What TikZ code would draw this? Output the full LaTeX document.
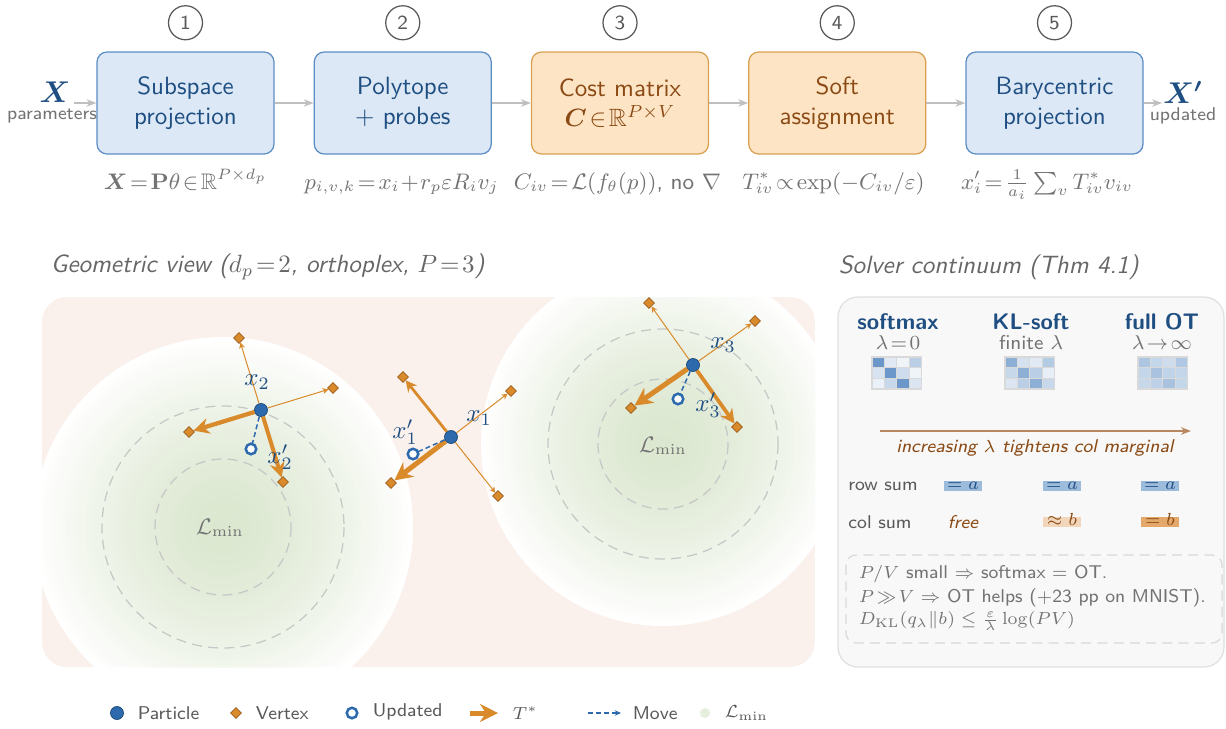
\documentclass[tikz,border=0pt]{standalone}
\usepackage{amsmath, amssymb}
\usepackage{tikz}
\usetikzlibrary{shapes.geometric, arrows.meta, positioning}
\renewcommand{\familydefault}{\sfdefault}
\newcommand{\notesize}{\fontsize{7.4pt}{9pt}\selectfont}

\definecolor{boxblue}{HTML}{DCE8F5}
\definecolor{edgeblue}{HTML}{5B8DC5}
\definecolor{inkblue}{HTML}{1F4E82}
\definecolor{boxorange}{HTML}{FCE4C5}
\definecolor{edgeorange}{HTML}{D9A050}
\definecolor{inkbrown}{HTML}{8B4A14}
\definecolor{dotblue}{HTML}{2C6AAD}
\definecolor{vtxorange}{HTML}{D98A2B}
\definecolor{vtxedge}{HTML}{9A5A1A}
\definecolor{paneltint}{HTML}{FBF1EC}
\definecolor{basin}{HTML}{DBE7CF}
\definecolor{softgray}{HTML}{F8F8F8}
\definecolor{cellblue}{HTML}{3A75B8}
\definecolor{chipblue}{HTML}{9DBBDB}
\definecolor{chiptan}{HTML}{F2D6BC}
\definecolor{chiporange}{HTML}{E3A86A}
\definecolor{trendtan}{HTML}{B8875F}

\tikzstyle{flow}=[-{Stealth[length=4pt,width=3pt]}, line width=0.5pt, color=black!25]
\tikzstyle{plan}=[-{Stealth[length=1.2pt 3,width=1.2pt 3]}, color=vtxorange]
\tikzstyle{move}=[-{Stealth[length=2.5pt,width=2.2pt]}, dash pattern=on 2pt off 1.2pt, line width=0.6pt, color=dotblue]

\begin{document}
\begin{tikzpicture}[x=0.4pt, y=-0.4pt,
  stagebox/.style={rectangle, draw=edgeblue, fill=boxblue, text=inkblue,
                   line width=0.5pt, minimum width=70.8pt, minimum height=40.8pt,
                   rounded corners=4pt, align=center, inner sep=0pt},
  costbox/.style={stagebox, draw=edgeorange, fill=boxorange, text=inkbrown},
  stepnum/.style={circle, draw=black!65, line width=0.5pt, minimum size=13.6pt,
                  inner sep=0pt, font=\footnotesize, text=black!65},
  formula/.style={font=\small, text=black!55, anchor=base},
  iolabel/.style={font=\large, text=inkblue},
  ionote/.style={font=\notesize, text=black!55},
  sectitle/.style={font=\itshape, text=black!60, anchor=west},
  particle/.style={circle, fill=dotblue, draw=dotblue!70!black, line width=0.3pt,
                   minimum size=5.2pt, inner sep=0pt},
  vertex/.style={diamond, fill=vtxorange, draw=vtxedge, line width=0.3pt,
                 minimum size=4.4pt, inner sep=0pt},
  updated/.style={circle, fill=white, draw=dotblue, line width=1pt,
                  minimum size=4.2pt, inner sep=0pt},
  ptlabel/.style={text=inkblue},
  ring/.style={dash pattern=on 4pt off 2.5pt, draw=black!22, line width=0.5pt},
  basinlabel/.style={font=\small, text=black!55},
  colhead/.style={font=\small\bfseries, text=inkblue},
  colsub/.style={font=\footnotesize, text=black!55},
  cell/.style={draw=black!15, line width=0.5pt},
  rowtext/.style={font=\notesize, text=black!65},
  chip/.style={inner xsep=0pt, inner ysep=0pt, minimum width=15.2pt,
               text height=3.4pt, text depth=0.6pt, font=\notesize},
  notetext/.style={font=\notesize, text=black!55, anchor=west},
  legendtext/.style={font=\notesize, text=black!65, anchor=west}
]
\useasboundingbox (0,0) rectangle (1226,728);

% pipeline
\node[stagebox] (proj) at (185.5,103) {Subspace\\projection};
\node[stagebox, right=15.6pt of proj] (poly) {Polytope\\$+$ probes};
\node[costbox,  right=15.6pt of poly] (cost) {Cost matrix\\$\boldsymbol{C}\!\in\!\mathbb{R}^{P\times V}$};
\node[costbox,  right=15.6pt of cost] (soft) {Soft\\assignment};
\node[stagebox, right=15.6pt of soft] (bary) {Barycentric\\projection};

\node[stepnum, above=4.4pt of proj] (n1) {1};
\node[stepnum, above=4.4pt of poly] (n2) {2};
\node[stepnum, above=4.4pt of cost] (n3) {3};
\node[stepnum, above=4.4pt of soft] (n4) {4};
\node[stepnum, above=4.4pt of bary] (n5) {5};

\node[formula] (f1) at (185.5,189) {$\boldsymbol{X}\!=\!\mathbf{P}\theta\!\in\!\mathbb{R}^{P\times d_p}$};
\node[formula] (f2) at (401.5,189) {$p_{i,v,k}\!=\!x_i\!+\!r_p\varepsilon R_i v_j$};
\node[formula] (f3) at (617.5,189) {$C_{iv}\!=\!\mathcal{L}(f_\theta(p))$, no $\nabla$};
\node[formula] (f4) at (833.5,189) {$T^*_{iv}\!\propto\!\exp(-C_{iv}/\varepsilon)$};
\node[formula] (f5) at (1047,189) {$x'_i\!=\!\frac{1}{a_i}\sum_v T^*_{iv}v_{iv}$};

\node[iolabel] (xin) at (55,92) {$\boldsymbol{X}$};
\node[ionote] (xinnote) at (52,116) {parameters};
\coordinate (xin-end) at (74,103);
\node[iolabel] (xout) at (1183,92) {$\boldsymbol{X'}$};
\node[ionote] (xoutnote) at (1183,116) {updated};
\coordinate (xout-end) at (1162,103);

\draw[flow] (xin-end) -- (proj);
\draw[flow] (proj) -- (poly);
\draw[flow] (poly) -- (cost);
\draw[flow] (cost) -- (soft);
\draw[flow] (soft) -- (bary);
\draw[flow] (bary) -- (xout-end);

% geometric view
\node[sectitle] (geotitle) at (42,267) {Geometric view ($d_p\!=\!2$, orthoplex, $P\!=\!3$)};
\begin{scope}
  \clip[rounded corners=10pt] (42,297) rectangle (815,667);
  \fill[paneltint] (42,297) rectangle (815,667);
  \foreach \i in {40,39,...,1} {
    \pgfmathsetmacro\pct{100*(1-(\i/40)^1.5)}
    \fill[basin!\pct!white] (223,527) circle[radius=4.75*\i];
    \fill[basin!\pct!white] (663,444) circle[radius=4.55*\i];
  }
\end{scope}
\draw[ring] (223,527) circle[radius=68];
\draw[ring] (223,527) circle[radius=121];
\draw[ring] (663,444) circle[radius=65];
\draw[ring] (663,444) circle[radius=115];
\node[basinlabel] (lminA) at (220,528) {$\mathcal{L}_{\min}$};
\node[basinlabel] (lminB) at (663,446) {$\mathcal{L}_{\min}$};

% particle 2
\node[particle] (p2) at (261,410) {};
\node[vertex] (p2a) at (239,338) {};
\node[vertex] (p2b) at (333,388) {};
\node[vertex] (p2c) at (189,432) {};
\node[vertex] (p2d) at (283,482) {};
\coordinate (u2c) at (251,449);
\draw[plan, line width=0.4pt] (p2) -- (p2a);
\draw[plan, line width=0.4pt] (p2) -- (p2b);
\draw[plan, line width=1.7pt] (p2) -- (p2c);
\draw[plan, line width=1.6pt] (p2) -- (p2d);
\draw[move] (p2) -- (u2c);
\node[updated] (u2) at (u2c) {};
\node[ptlabel] (l2) at (257,382) {$x_2$};
\node[ptlabel] (l2u) at (280,457) {$x'_2$};

% particle 1
\node[particle] (p1) at (451,437) {};
\node[vertex] (p1a) at (403,377) {};
\node[vertex] (p1b) at (511,391) {};
\node[vertex] (p1c) at (391,483) {};
\node[vertex] (p1d) at (498,496) {};
\coordinate (u1c) at (413,454);
\draw[plan, line width=1.1pt] (p1) -- (p1a);
\draw[plan, line width=0.4pt] (p1) -- (p1b);
\draw[plan, line width=2pt] (p1) -- (p1c);
\draw[plan, line width=0.4pt] (p1) -- (p1d);
\draw[move] (p1) -- (u1c);
\node[updated] (u1) at (u1c) {};
\node[ptlabel] (l1) at (479,418) {$x_1$};
\node[ptlabel] (l1u) at (405,432) {$x'_1$};

% particle 3
\node[particle] (p3) at (693,365) {};
\node[vertex] (p3a) at (649,303) {};
\node[vertex] (p3b) at (755,321) {};
\node[vertex] (p3c) at (631,408) {};
\node[vertex] (p3d) at (737,427) {};
\coordinate (u3c) at (678,399);
\draw[plan, line width=0.4pt] (p3) -- (p3a);
\draw[plan, line width=0.4pt] (p3) -- (p3b);
\draw[plan, line width=2pt] (p3) -- (p3c);
\draw[plan, line width=1.5pt] (p3) -- (p3d);
\draw[move] (p3) -- (u3c);
\node[updated] (u3) at (u3c) {};
\node[ptlabel] (l3) at (723,345) {$x_3$};
\node[ptlabel] (l3u) at (708,405) {$x'_3$};

% solver continuum
\node[sectitle] (soltitle) at (830,267) {Solver continuum (Thm 4.1)};
\filldraw[fill=softgray, draw=black!12, line width=0.5pt, rounded corners=8pt]
  (838,297) rectangle (1224,667);

\node[colhead] (hsm) at (898,322) {softmax};
\node[colsub]  (ssm) at (898,343) {$\lambda\!=\!0$};
\node[colhead] (hkl) at (1031,322) {KL-soft};
\node[colsub]  (skl) at (1031,343) {finite $\lambda$};
\node[colhead] (hot) at (1162,322) {full OT};
\node[colsub]  (sot) at (1162,343) {$\lambda\!\to\!\infty$};

\foreach \v [count=\k from 0] in {75,15,8,35,20,75,25,8,10,28,75,18}
  \filldraw[cell, fill=cellblue!\v!white] ({872+12.4*mod(\k,4)},{357+10.7*int(\k/4)}) rectangle ++(12.4,10.7);
\foreach \v [count=\k from 0] in {58,22,15,38,28,58,35,12,18,35,58,28}
  \filldraw[cell, fill=cellblue!\v!white] ({1005+12.4*mod(\k,4)},{357+10.7*int(\k/4)}) rectangle ++(12.4,10.7);
\foreach \v [count=\k from 0] in {42,30,25,40,30,44,32,30,28,33,44,30}
  \filldraw[cell, fill=cellblue!\v!white] ({1138+12.4*mod(\k,4)},{357+10.7*int(\k/4)}) rectangle ++(12.4,10.7);

\coordinate (trend-start) at (880,431);
\coordinate (trend-end) at (1191,431);
\draw[-{Stealth[length=4pt,width=3pt]}, line width=0.7pt, trendtan] (trend-start) -- (trend-end);
\node[font=\notesize\itshape, text=inkbrown] (trend) at (1035,448) {increasing $\lambda$ tightens col marginal};

\node[rowtext] (rowsum) at (883,486) {row sum};
\node[rowtext] (colsum) at (880,522) {col sum};
\node[chip, fill=chipblue, text=inkblue] (ra) at (963,486) {$=a$};
\node[chip, fill=chipblue, text=inkblue] (rb) at (1062,486) {$=a$};
\node[chip, fill=chipblue, text=inkblue] (rc) at (1160,486) {$=a$};
\node[font=\notesize\itshape, text=inkbrown] (ca) at (963,522) {free};
\node[chip, fill=chiptan, text=inkbrown] (cb) at (1062,522) {$\approx b$};
\node[chip, fill=chiporange, text=inkbrown] (cc) at (1160,522) {$=b$};

\draw[dash pattern=on 4pt off 2.5pt, draw=black!15, line width=0.5pt, rounded corners=4pt]
  (846,555) rectangle (1222,643);
\node[notetext] (note1) at (850,574) {$P/V$ small $\Rightarrow$ softmax = OT.};
\node[notetext] (note2) at (850,598) {$P\!\gg\!V\Rightarrow$ OT helps ($+$23 pp on MNIST).};
\node[notetext] (note3) at (850,621) {$D_{\mathrm{KL}}(q_\lambda\|b)\le\frac{\varepsilon}{\lambda}\log(PV)$};

% legend
\node[particle] (lg-part) at (117,713) {};
\node[legendtext] (lg-parttext) at (129,713) {Particle};
\node[vertex] (lg-vtx) at (236,713) {};
\node[legendtext] (lg-vtxtext) at (247,713) {Vertex};
\node[updated] (lg-upd) at (352,713) {};
\node[legendtext] (lg-updtext) at (364,712) {Updated};
\coordinate (lg-plan-a) at (470,713);
\coordinate (lg-plan-b) at (498,713);
\draw[plan, line width=2pt] (lg-plan-a) -- (lg-plan-b);
\node[legendtext] (lg-plantext) at (504,713) {$T^*$};
\coordinate (lg-move-a) at (588,713);
\coordinate (lg-move-b) at (621,713);
\draw[move] (lg-move-a) -- (lg-move-b);
\node[legendtext] (lg-movetext) at (624,713) {Move};
\node[circle, minimum size=4pt, inner sep=0pt, fill=basin!70!white] (lg-basin) at (705,713) {};
\node[legendtext] (lg-basintext) at (716,713) {$\mathcal{L}_{\min}$};
\end{tikzpicture}
\end{document}
